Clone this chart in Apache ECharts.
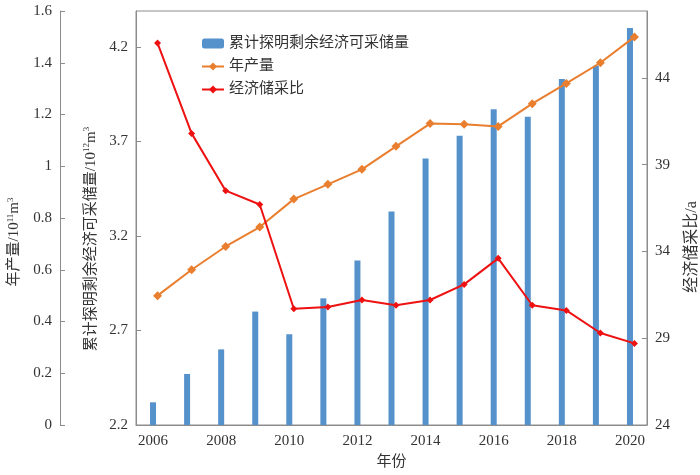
<!DOCTYPE html>
<html>
<head>
<meta charset="utf-8">
<script src="https://cdn.jsdelivr.net/npm/echarts@6/dist/echarts.min.js"></script>
<style>
  html, body { margin: 0; padding: 0; background: #fff; }
  #chart { width: 700px; height: 475px; }
</style>
</head>
<body>
<div id="chart"></div>
<script>
// 年份
var years = ['2006', '2007', '2008', '2009', '2010', '2011', '2012', '2013', '2014', '2015', '2016', '2017', '2018', '2019', '2020'];
// 累计探明剩余经济可采储量 / 10^12 m^3
var reserves = [2.32, 2.47, 2.60, 2.80, 2.68, 2.87, 3.07, 3.33, 3.61, 3.73, 3.87, 3.83, 4.03, 4.10, 4.30];
// 年产量 / 10^11 m^3
var output = [0.50, 0.60, 0.69, 0.765, 0.873, 0.93, 0.988, 1.077, 1.165, 1.162, 1.154, 1.242, 1.32, 1.40, 1.50];
// 经济储采比 / a
var ratio = [46.0, 40.8, 37.5, 36.7, 30.7, 30.8, 31.2, 30.9, 31.2, 32.1, 33.6, 30.9, 30.6, 29.3, 28.7];

// 刻度
var reserveTicks = [2.2, 2.7, 3.2, 3.7, 4.2];
var ratioTicks = [24, 29, 34, 39, 44];

var serif = '"Liberation Serif", "Noto Sans CJK SC", serif';
var textColor = '#333';
var axisColor = '#8c8c8c';

var nameRich = {
  a: { fontSize: 15, fontFamily: serif, color: textColor },
  s: { fontSize: 9, fontFamily: serif, color: textColor, verticalAlign: 'top', padding: [0, 0, 8, 0] }
};

var chart = echarts.init(document.getElementById('chart'));

var option = {
  backgroundColor: '#fff',
  animation: false,
  textStyle: { fontFamily: serif },
  legend: {
    orient: 'vertical',
    left: 196,
    top: 31,
    itemWidth: 22,
    itemHeight: 10,
    itemGap: 8,
    textStyle: { fontSize: 15, color: textColor, fontFamily: serif },
    data: ['累计探明剩余经济可采储量', '年产量', '经济储采比']
  },
  // 柱状图网格 + 折线网格（折线稍微右移）
  grid: [
    { left: 136, right: 53, top: 11, bottom: 50, outerBoundsMode: 'none', show: true, borderColor: axisColor, borderWidth: 1, backgroundColor: 'transparent' },
    { left: 140.5, right: 48.5, top: 11, bottom: 50, outerBoundsMode: 'none' }
  ],
  xAxis: [
    {
      type: 'category',
      gridIndex: 0,
      data: years,
      boundaryGap: true,
      name: '年份',
      nameLocation: 'middle',
      nameGap: 30,
      nameTextStyle: { fontSize: 15, color: textColor, fontFamily: serif },
      axisLine: { lineStyle: { color: axisColor } },
      axisTick: { alignWithLabel: true, interval: 0, length: 4, lineStyle: { color: axisColor } },
      axisLabel: { interval: 1, fontSize: 15, color: textColor, margin: 9 },
      splitLine: { show: false }
    },
    {
      type: 'category',
      gridIndex: 1,
      data: years,
      boundaryGap: true,
      show: false
    }
  ],
  yAxis: [
    {
      type: 'value',
      gridIndex: 0,
      position: 'left',
      min: 2.2,
      max: 4.39,
      name: '{a|累计探明剩余经济可采储量/10}{s|12}{a|m}{s|3}',
      nameLocation: 'middle',
      nameRotate: 90,
      nameGap: 36,
      nameTextStyle: { rich: nameRich, padding: [0, 42, 0, 0] },
      axisLine: { show: true, lineStyle: { color: axisColor } },
      axisTick: { show: true, inside: true, length: 5, customValues: reserveTicks, lineStyle: { color: axisColor } },
      axisLabel: { fontSize: 15, color: textColor, margin: 8, customValues: reserveTicks, formatter: function (v) { return v.toFixed(1); } },
      splitLine: { show: false }
    },
    {
      type: 'value',
      gridIndex: 1,
      position: 'left',
      offset: 80.5,
      min: 0,
      max: 1.6,
      interval: 0.2,
      name: '{a|年产量/10}{s|11}{a|m}{s|3}',
      nameLocation: 'middle',
      nameRotate: 90,
      nameGap: 37,
      nameTextStyle: { rich: nameRich, padding: [0, 48, 0, 0] },
      axisLine: { show: true, lineStyle: { color: axisColor } },
      axisTick: { show: true, inside: true, length: 5, lineStyle: { color: axisColor } },
      axisLabel: { fontSize: 15, color: textColor, margin: 8 },
      splitLine: { show: false }
    },
    {
      type: 'value',
      gridIndex: 1,
      position: 'right',
      offset: -4.5,
      min: 24,
      max: 47.85,
      name: '经济储采比/a',
      nameLocation: 'middle',
      nameRotate: 90,
      nameGap: 37,
      nameTextStyle: { fontSize: 16, color: textColor, fontFamily: serif, padding: [0, 58, 0, 0] },
      axisLine: { show: true, lineStyle: { color: axisColor } },
      axisTick: { show: true, inside: true, length: 5, customValues: ratioTicks, lineStyle: { color: axisColor } },
      axisLabel: { fontSize: 15, color: textColor, margin: 8, customValues: ratioTicks },
      splitLine: { show: false }
    }
  ],
  series: [
    {
      name: '累计探明剩余经济可采储量',
      type: 'bar',
      xAxisIndex: 0,
      yAxisIndex: 0,
      barWidth: 6,
      itemStyle: { color: '#5591cb' },
      data: reserves
    },
    {
      name: '年产量',
      type: 'line',
      xAxisIndex: 1,
      yAxisIndex: 1,
      symbol: 'diamond',
      symbolSize: 9,
      lineStyle: { color: '#e97e2e', width: 2 },
      itemStyle: { color: '#e97e2e' },
      data: output
    },
    {
      name: '经济储采比',
      type: 'line',
      xAxisIndex: 1,
      yAxisIndex: 2,
      symbol: 'diamond',
      symbolSize: 7,
      lineStyle: { color: '#ee1111', width: 2 },
      itemStyle: { color: '#ee1111' },
      data: ratio
    }
  ]
};

chart.setOption(option);
</script>
</body>
</html>
